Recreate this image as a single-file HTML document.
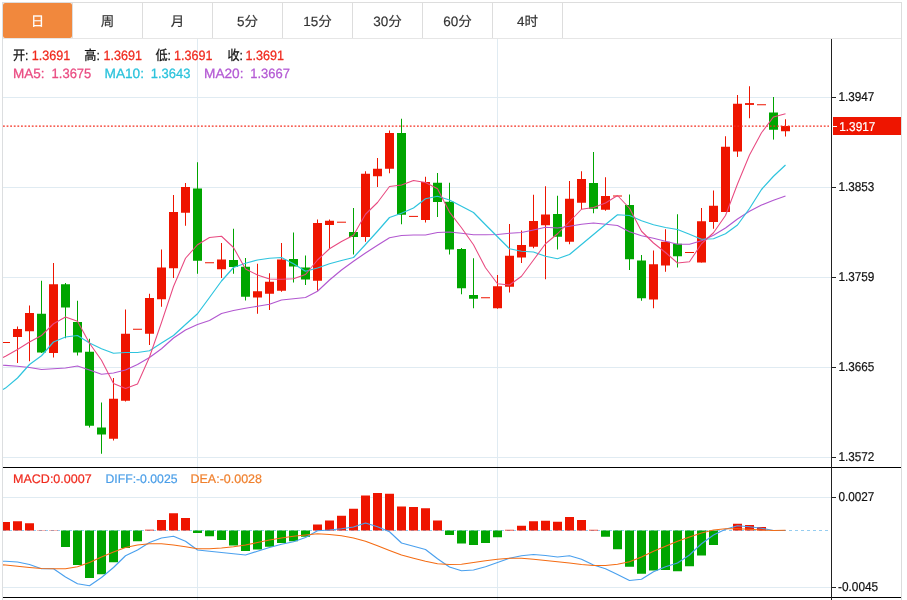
<!DOCTYPE html>
<html lang="zh-CN">
<head>
<meta charset="utf-8">
<title>K线图</title>
<style>
html,body{margin:0;padding:0;background:#fff;}
body{width:907px;height:600px;overflow:hidden;font-family:"Liberation Sans","Noto Sans CJK SC",sans-serif;}
svg{display:block;will-change:transform;}
text{text-rendering:geometricPrecision;}
</style>
</head>
<body>
<svg width="907" height="600" viewBox="0 0 907 600" shape-rendering="auto">
<rect width="907" height="600" fill="#fff"/>
<g shape-rendering="crispEdges">
<rect x="2" y="2" width="900" height="1" fill="#dddddd"/>
<rect x="2" y="2" width="1" height="598" fill="#dcdee0"/>
<rect x="901" y="2" width="1" height="598" fill="#dcdcdc"/>
<rect x="3" y="38" width="898" height="1" fill="#e6e6e6"/>
<rect x="3" y="3" width="69" height="35" rx="2" ry="2" fill="#f1883d" shape-rendering="auto"/>
<rect x="72" y="3" width="1" height="35" fill="#dddddd"/>
<rect x="142" y="3" width="1" height="35" fill="#dddddd"/>
<rect x="212" y="3" width="1" height="35" fill="#dddddd"/>
<rect x="282" y="3" width="1" height="35" fill="#dddddd"/>
<rect x="352" y="3" width="1" height="35" fill="#dddddd"/>
<rect x="422" y="3" width="1" height="35" fill="#dddddd"/>
<rect x="492" y="3" width="1" height="35" fill="#dddddd"/>
<rect x="562" y="3" width="1" height="35" fill="#dddddd"/>
<rect x="3" y="97" width="828" height="1" fill="#e0ebf2"/>
<rect x="3" y="187" width="828" height="1" fill="#e0ebf2"/>
<rect x="3" y="277" width="828" height="1" fill="#e0ebf2"/>
<rect x="3" y="367" width="828" height="1" fill="#e0ebf2"/>
<rect x="3" y="457" width="828" height="1" fill="#e0ebf2"/>
<rect x="3" y="497" width="828" height="1" fill="#e0ebf2"/>
<rect x="3" y="587" width="828" height="1" fill="#e0ebf2"/>
<rect x="197" y="39" width="1" height="561" fill="#e0ebf2"/>
<rect x="497" y="39" width="1" height="561" fill="#e0ebf2"/>
</g>
<g font-family="'Liberation Sans', 'Noto Sans CJK SC', sans-serif" font-size="13.5" text-anchor="middle" stroke-width="0.18" stroke-linejoin="round">
<text x="37.5" y="25.7" fill="#fff" stroke="#fff">日</text>
<text x="107.5" y="25.7" fill="#333" stroke="#333">周</text>
<text x="177.5" y="25.7" fill="#333" stroke="#333">月</text>
<text x="247.5" y="25.7" fill="#333" stroke="#333">5分</text>
<text x="317.5" y="25.7" fill="#333" stroke="#333">15分</text>
<text x="387.5" y="25.7" fill="#333" stroke="#333">30分</text>
<text x="457.5" y="25.7" fill="#333" stroke="#333">60分</text>
<text x="527.5" y="25.7" fill="#333" stroke="#333">4时</text>
</g>
<g>
<rect x="3" y="342" width="7" height="1" fill="#ee1500"/>
<rect x="17" y="326.5" width="1" height="36.5" fill="#ee1500"/>
<rect x="13" y="329" width="9" height="8" fill="#ee1500"/>
<rect x="29" y="305.5" width="1" height="55.75" fill="#ee1500"/>
<rect x="25" y="313" width="9" height="18.25" fill="#ee1500"/>
<rect x="41" y="280.75" width="1" height="72.25" fill="#00a500"/>
<rect x="37" y="313.75" width="9" height="38.75" fill="#00a500"/>
<rect x="53" y="263" width="1" height="94.5" fill="#ee1500"/>
<rect x="49" y="284.25" width="9" height="68.75" fill="#ee1500"/>
<rect x="65" y="283" width="1" height="55.25" fill="#00a500"/>
<rect x="61" y="284.25" width="9" height="23.25" fill="#00a500"/>
<rect x="77" y="300.75" width="1" height="54.75" fill="#00a500"/>
<rect x="73" y="322" width="9" height="30.5" fill="#00a500"/>
<rect x="89" y="338.75" width="1" height="88.75" fill="#00a500"/>
<rect x="85" y="351.75" width="9" height="74" fill="#00a500"/>
<rect x="101" y="402.5" width="1" height="51.25" fill="#00a500"/>
<rect x="97" y="427.5" width="9" height="7" fill="#00a500"/>
<rect x="113" y="378" width="1" height="62.5" fill="#ee1500"/>
<rect x="109" y="398.75" width="9" height="40" fill="#ee1500"/>
<rect x="125" y="309.5" width="1" height="92" fill="#ee1500"/>
<rect x="121" y="333.75" width="9" height="67" fill="#ee1500"/>
<rect x="133" y="328.75" width="9" height="1" fill="#ee1500"/>
<rect x="149" y="293.75" width="1" height="51.25" fill="#ee1500"/>
<rect x="145" y="298" width="9" height="35.75" fill="#ee1500"/>
<rect x="161" y="249.5" width="1" height="57.25" fill="#ee1500"/>
<rect x="157" y="267.5" width="9" height="31.75" fill="#ee1500"/>
<rect x="173" y="195" width="1" height="83" fill="#ee1500"/>
<rect x="169" y="212" width="9" height="56.25" fill="#ee1500"/>
<rect x="185" y="183" width="1" height="42.75" fill="#ee1500"/>
<rect x="181" y="187" width="9" height="25.75" fill="#ee1500"/>
<rect x="197" y="162.25" width="1" height="111.5" fill="#00a500"/>
<rect x="193" y="188.5" width="9" height="72.25" fill="#00a500"/>
<rect x="205" y="262.25" width="9" height="1" fill="#ee1500"/>
<rect x="221" y="243" width="1" height="35" fill="#ee1500"/>
<rect x="217" y="259.5" width="9" height="9.75" fill="#ee1500"/>
<rect x="233" y="228.75" width="1" height="45" fill="#00a500"/>
<rect x="229" y="260" width="9" height="7" fill="#00a500"/>
<rect x="245" y="258" width="1" height="42.5" fill="#00a500"/>
<rect x="241" y="266.75" width="9" height="30" fill="#00a500"/>
<rect x="257" y="263.75" width="1" height="50" fill="#ee1500"/>
<rect x="253" y="291.25" width="9" height="6.25" fill="#ee1500"/>
<rect x="269" y="273.25" width="1" height="36.75" fill="#ee1500"/>
<rect x="265" y="281.75" width="9" height="12" fill="#ee1500"/>
<rect x="281" y="243" width="1" height="48.75" fill="#ee1500"/>
<rect x="277" y="259.5" width="9" height="31.25" fill="#ee1500"/>
<rect x="293" y="232.5" width="1" height="50" fill="#00a500"/>
<rect x="289" y="259" width="9" height="7.5" fill="#00a500"/>
<rect x="305" y="255.5" width="1" height="29.5" fill="#00a500"/>
<rect x="301" y="267.5" width="9" height="12" fill="#00a500"/>
<rect x="317" y="219.5" width="1" height="71.25" fill="#ee1500"/>
<rect x="313" y="223" width="9" height="57.75" fill="#ee1500"/>
<rect x="329" y="219.5" width="1" height="29.25" fill="#ee1500"/>
<rect x="325" y="220.75" width="9" height="4.25" fill="#ee1500"/>
<rect x="337" y="221.7" width="9" height="1" fill="#ee1500"/>
<rect x="353" y="208" width="1" height="46.5" fill="#00a500"/>
<rect x="349" y="232" width="9" height="5" fill="#00a500"/>
<rect x="365" y="171.25" width="1" height="70.5" fill="#ee1500"/>
<rect x="361" y="173.75" width="9" height="63.25" fill="#ee1500"/>
<rect x="377" y="158" width="1" height="29" fill="#ee1500"/>
<rect x="373" y="168.75" width="9" height="7.5" fill="#ee1500"/>
<rect x="389" y="130.5" width="1" height="42.75" fill="#ee1500"/>
<rect x="385" y="133" width="9" height="35.75" fill="#ee1500"/>
<rect x="401" y="118.75" width="1" height="105.5" fill="#00a500"/>
<rect x="397" y="133" width="9" height="81.75" fill="#00a500"/>
<rect x="409" y="215.9" width="9" height="1" fill="#ee1500"/>
<rect x="425" y="176.75" width="1" height="45.75" fill="#ee1500"/>
<rect x="421" y="182" width="9" height="38" fill="#ee1500"/>
<rect x="437" y="173" width="1" height="44" fill="#00a500"/>
<rect x="433" y="182.75" width="9" height="19.25" fill="#00a500"/>
<rect x="449" y="182.75" width="1" height="71.75" fill="#00a500"/>
<rect x="445" y="201.75" width="9" height="47.75" fill="#00a500"/>
<rect x="461" y="248" width="1" height="46.25" fill="#00a500"/>
<rect x="457" y="249" width="9" height="39.25" fill="#00a500"/>
<rect x="473" y="258.25" width="1" height="50" fill="#00a500"/>
<rect x="469" y="295" width="9" height="3.75" fill="#00a500"/>
<rect x="481" y="297.25" width="9" height="1" fill="#ee1500"/>
<rect x="497" y="275" width="1" height="33.75" fill="#ee1500"/>
<rect x="493" y="286.25" width="9" height="22" fill="#ee1500"/>
<rect x="509" y="224" width="1" height="68.5" fill="#ee1500"/>
<rect x="505" y="255.75" width="9" height="31" fill="#ee1500"/>
<rect x="521" y="230.5" width="1" height="32.5" fill="#ee1500"/>
<rect x="517" y="245" width="9" height="12.5" fill="#ee1500"/>
<rect x="533" y="194.75" width="1" height="53.5" fill="#ee1500"/>
<rect x="529" y="221" width="9" height="25.75" fill="#ee1500"/>
<rect x="545" y="186.25" width="1" height="93" fill="#ee1500"/>
<rect x="541" y="214.5" width="9" height="10.75" fill="#ee1500"/>
<rect x="557" y="195.75" width="1" height="53.75" fill="#00a500"/>
<rect x="553" y="214" width="9" height="22.75" fill="#00a500"/>
<rect x="569" y="181" width="1" height="63.25" fill="#ee1500"/>
<rect x="565" y="198.75" width="9" height="43" fill="#ee1500"/>
<rect x="581" y="171.25" width="1" height="38" fill="#ee1500"/>
<rect x="577" y="179" width="9" height="23.75" fill="#ee1500"/>
<rect x="593" y="152" width="1" height="61.25" fill="#00a500"/>
<rect x="589" y="183" width="9" height="25.75" fill="#00a500"/>
<rect x="605" y="177.25" width="1" height="33.5" fill="#ee1500"/>
<rect x="601" y="196" width="9" height="13.75" fill="#ee1500"/>
<rect x="613" y="195.5" width="9" height="1" fill="#ee1500"/>
<rect x="629" y="194.5" width="1" height="75.5" fill="#00a500"/>
<rect x="625" y="205" width="9" height="54.25" fill="#00a500"/>
<rect x="641" y="255" width="1" height="45.75" fill="#00a500"/>
<rect x="637" y="260.5" width="9" height="37.75" fill="#00a500"/>
<rect x="653" y="250.5" width="1" height="57.75" fill="#ee1500"/>
<rect x="649" y="264.25" width="9" height="35.25" fill="#ee1500"/>
<rect x="665" y="229.25" width="1" height="42.5" fill="#ee1500"/>
<rect x="661" y="241.75" width="9" height="23.75" fill="#ee1500"/>
<rect x="677" y="214.25" width="1" height="53.25" fill="#00a500"/>
<rect x="673" y="243.75" width="9" height="12.5" fill="#00a500"/>
<rect x="685" y="252" width="9" height="1" fill="#ee1500"/>
<rect x="701" y="208" width="1" height="54.5" fill="#ee1500"/>
<rect x="697" y="221.25" width="9" height="41.25" fill="#ee1500"/>
<rect x="713" y="190.5" width="1" height="38.25" fill="#ee1500"/>
<rect x="709" y="205.75" width="9" height="16.25" fill="#ee1500"/>
<rect x="725" y="136.25" width="1" height="75.75" fill="#ee1500"/>
<rect x="721" y="146.75" width="9" height="65.25" fill="#ee1500"/>
<rect x="737" y="95" width="1" height="61.9" fill="#ee1500"/>
<rect x="733" y="103.75" width="9" height="47.75" fill="#ee1500"/>
<rect x="749" y="86.25" width="1" height="32" fill="#ee1500"/>
<rect x="745" y="103.1" width="9" height="1.8" fill="#ee1500"/>
<rect x="757" y="104.25" width="9" height="1" fill="#ee1500"/>
<rect x="773" y="97" width="1" height="42.6" fill="#00a500"/>
<rect x="769" y="112.5" width="9" height="17.25" fill="#00a500"/>
<rect x="785" y="119.25" width="1" height="17.25" fill="#ee1500"/>
<rect x="781" y="126" width="9" height="5.25" fill="#ee1500"/>
</g>
<line x1="3" y1="530.5" x2="829" y2="530.5" stroke="#96cdf0" stroke-width="1" stroke-dasharray="3 3" shape-rendering="crispEdges"/>
<g>
<rect x="3" y="522" width="7" height="8.5" fill="#ee1500"/>
<rect x="13" y="521.25" width="9" height="9.25" fill="#ee1500"/>
<rect x="25" y="523.25" width="9" height="7.25" fill="#ee1500"/>
<rect x="37" y="530.2" width="9" height="0.3" fill="#ee1500"/>
<rect x="49" y="530.2" width="9" height="0.3" fill="#ee1500"/>
<rect x="61" y="530.5" width="9" height="16.5" fill="#00a500"/>
<rect x="73" y="530.5" width="9" height="34.5" fill="#00a500"/>
<rect x="85" y="530.5" width="9" height="47.5" fill="#00a500"/>
<rect x="97" y="530.5" width="9" height="43.75" fill="#00a500"/>
<rect x="109" y="530.5" width="9" height="31.75" fill="#00a500"/>
<rect x="121" y="530.5" width="9" height="17.5" fill="#00a500"/>
<rect x="133" y="530.5" width="9" height="10.75" fill="#00a500"/>
<rect x="145" y="529.7" width="9" height="0.8" fill="#ee1500"/>
<rect x="157" y="520" width="9" height="10.5" fill="#ee1500"/>
<rect x="169" y="513.25" width="9" height="17.25" fill="#ee1500"/>
<rect x="181" y="518" width="9" height="12.5" fill="#ee1500"/>
<rect x="193" y="530.5" width="9" height="2.5" fill="#00a500"/>
<rect x="205" y="530.5" width="9" height="5.75" fill="#00a500"/>
<rect x="217" y="530.5" width="9" height="9.5" fill="#00a500"/>
<rect x="229" y="530.5" width="9" height="15" fill="#00a500"/>
<rect x="241" y="530.5" width="9" height="20.5" fill="#00a500"/>
<rect x="253" y="530.5" width="9" height="19" fill="#00a500"/>
<rect x="265" y="530.5" width="9" height="16.25" fill="#00a500"/>
<rect x="277" y="530.5" width="9" height="12.5" fill="#00a500"/>
<rect x="289" y="530.5" width="9" height="10.75" fill="#00a500"/>
<rect x="301" y="530.5" width="9" height="6.25" fill="#00a500"/>
<rect x="313" y="524.5" width="9" height="6" fill="#ee1500"/>
<rect x="325" y="520.5" width="9" height="10" fill="#ee1500"/>
<rect x="337" y="515.75" width="9" height="14.75" fill="#ee1500"/>
<rect x="349" y="508.75" width="9" height="21.75" fill="#ee1500"/>
<rect x="361" y="495.5" width="9" height="35" fill="#ee1500"/>
<rect x="373" y="493" width="9" height="37.5" fill="#ee1500"/>
<rect x="385" y="493.75" width="9" height="36.75" fill="#ee1500"/>
<rect x="397" y="506.5" width="9" height="24" fill="#ee1500"/>
<rect x="409" y="507" width="9" height="23.5" fill="#ee1500"/>
<rect x="421" y="508.25" width="9" height="22.25" fill="#ee1500"/>
<rect x="433" y="520.5" width="9" height="10" fill="#ee1500"/>
<rect x="445" y="530.5" width="9" height="4.5" fill="#00a500"/>
<rect x="457" y="530.5" width="9" height="13" fill="#00a500"/>
<rect x="469" y="530.5" width="9" height="14.5" fill="#00a500"/>
<rect x="481" y="530.5" width="9" height="12.5" fill="#00a500"/>
<rect x="493" y="530.5" width="9" height="6.75" fill="#00a500"/>
<rect x="505" y="529.8" width="9" height="0.7" fill="#ee1500"/>
<rect x="517" y="525.75" width="9" height="4.75" fill="#ee1500"/>
<rect x="529" y="521.25" width="9" height="9.25" fill="#ee1500"/>
<rect x="541" y="520.75" width="9" height="9.75" fill="#ee1500"/>
<rect x="553" y="521.75" width="9" height="8.75" fill="#ee1500"/>
<rect x="565" y="517" width="9" height="13.5" fill="#ee1500"/>
<rect x="577" y="520" width="9" height="10.5" fill="#ee1500"/>
<rect x="589" y="529.8" width="9" height="0.7" fill="#ee1500"/>
<rect x="601" y="530.5" width="9" height="6.25" fill="#00a500"/>
<rect x="613" y="530.5" width="9" height="18.75" fill="#00a500"/>
<rect x="625" y="530.5" width="9" height="36.25" fill="#00a500"/>
<rect x="637" y="530.5" width="9" height="43.25" fill="#00a500"/>
<rect x="649" y="530.5" width="9" height="40" fill="#00a500"/>
<rect x="661" y="530.5" width="9" height="39.5" fill="#00a500"/>
<rect x="673" y="530.5" width="9" height="40.75" fill="#00a500"/>
<rect x="685" y="530.5" width="9" height="35.75" fill="#00a500"/>
<rect x="697" y="530.5" width="9" height="25" fill="#00a500"/>
<rect x="709" y="530.5" width="9" height="14.5" fill="#00a500"/>
<rect x="733" y="523.75" width="9" height="6.75" fill="#ee1500"/>
<rect x="745" y="525" width="9" height="5.5" fill="#ee1500"/>
<rect x="757" y="527" width="9" height="3.5" fill="#ee1500"/>
</g>
<line x1="3" y1="126" x2="829" y2="126" stroke="#f32e1e" stroke-width="1.25" stroke-dasharray="1.8 1.8"/>
<polyline fill="none" stroke="#b258d0" stroke-width="1.15" stroke-linejoin="round" points="3,365.25 5.5,365.4 17.5,366.25 29.5,367.5 41.5,369.5 53.5,368.75 65.5,368 77.5,366 89.5,370 101.5,374.25 113.5,373 125.5,370 137.5,364.5 149.5,357.5 161.5,348.75 173.5,338 185.5,330 197.5,324.5 209.5,320.5 221.5,313.5 233.5,310.5 245.5,308.25 257.5,306.25 269.5,304.25 281.5,300 293.5,298.75 305.5,297.5 317.5,291.25 329.5,280 341.5,270 353.5,261.25 365.5,253 377.5,245.25 389.5,237.75 401.5,235.5 413.5,235 425.5,235 437.5,232.5 449.5,232 461.5,233.25 473.5,234.75 485.5,234.75 497.5,234.5 509.5,233.25 521.5,232.5 533.5,230 545.5,227.25 557.5,228 569.5,226.25 581.5,224.25 593.5,223 605.5,224.25 617.5,225.5 629.5,231.75 641.5,235.75 653.5,238.25 665.5,241.25 677.5,244.25 689.5,244.25 701.5,240.75 713.5,235.25 725.5,228 737.5,219 749.5,211.25 761.5,205 773.5,200.25 785.5,196"/>
<polyline fill="none" stroke="#2ec4de" stroke-width="1.2" stroke-linejoin="round" points="3,389.5 5.5,388.1 17.5,378 29.5,364.5 41.5,355.75 53.5,342 65.5,337 77.5,335.5 89.5,343 101.5,348.75 113.5,353.25 125.5,352.5 137.5,352.5 149.5,350.75 161.5,343 173.5,335.5 185.5,324.5 197.5,313.75 209.5,297.5 221.5,281 233.5,267.5 245.5,263.25 257.5,260 269.5,258.25 281.5,257.5 293.5,263.75 305.5,271.25 317.5,268 329.5,263.75 341.5,260.5 353.5,257.5 365.5,244.5 377.5,231.25 389.5,217.5 401.5,213.25 413.5,208 425.5,198.75 437.5,196.25 449.5,200 461.5,206.25 473.5,212.5 485.5,224.75 497.5,236.75 509.5,248.75 521.5,251.25 533.5,252 545.5,256.25 557.5,258.75 569.5,254.5 581.5,244.5 593.5,234.5 605.5,224.5 617.5,214.75 629.5,215.5 641.5,220.75 653.5,224.75 665.5,227.5 677.5,229.5 689.5,234.25 701.5,239.25 713.5,238.75 725.5,233.75 737.5,225 749.5,208.5 761.5,189.5 773.5,176.25 785.5,165"/>
<polyline fill="none" stroke="#e84a80" stroke-width="1.05" stroke-linejoin="round" points="3,357.5 5.5,356.25 17.5,349.5 29.5,342 41.5,335.5 53.5,323.75 65.5,317 77.5,321.25 89.5,343.25 101.5,360.25 113.5,383.5 125.5,388.5 137.5,384 149.5,357 161.5,322.5 173.5,286.5 185.5,258.25 197.5,244.75 209.5,237.5 221.5,236.25 233.5,247.5 245.5,269 257.5,275 269.5,279 281.5,279.25 293.5,278.75 305.5,274.5 317.5,260 329.5,248.75 341.5,241.5 353.5,235.25 365.5,214.25 377.5,202.5 389.5,186.5 401.5,185 413.5,180.5 425.5,182.5 437.5,188.75 449.5,212.1 461.5,227.7 473.5,244.8 485.5,267.75 497.5,283.75 509.5,285 521.5,276.25 533.5,260 545.5,243.75 557.5,233.75 569.5,221.75 581.5,209.25 593.5,207.5 605.5,203 617.5,195.5 629.5,208.25 641.5,231.25 653.5,243 665.5,252.5 677.5,263 689.5,261.75 701.5,243.75 713.5,232.75 725.5,215.5 737.5,184 749.5,155 761.5,132.75 773.5,116.9 785.5,113.75"/>
<polyline fill="none" stroke="#4aa0ee" stroke-width="1.15" stroke-linejoin="round" points="3,561.2 5.5,561.25 17.5,562 29.5,564.5 41.5,568.75 53.5,568.75 65.5,577 77.5,583.75 89.5,585.75 101.5,577.5 113.5,567.5 125.5,555.75 137.5,550 149.5,542.5 161.5,538 173.5,536.25 185.5,541.25 197.5,550 209.5,551.25 221.5,552.5 233.5,553.75 245.5,555 257.5,551.25 269.5,547.5 281.5,544.25 293.5,541.75 305.5,537.5 317.5,530.75 329.5,530 341.5,528.75 353.5,527 365.5,523 377.5,526.75 389.5,531.75 401.5,543 413.5,546.25 425.5,549.5 437.5,558.75 449.5,567 461.5,570.75 473.5,570 485.5,566.75 497.5,562.5 509.5,558.25 521.5,555.75 533.5,554.5 545.5,555.5 557.5,557 569.5,555.75 581.5,559.25 593.5,565 605.5,568.75 617.5,574.5 629.5,580.5 641.5,579.25 653.5,571.75 665.5,566.75 677.5,563 689.5,555 701.5,543.75 713.5,535 725.5,529.25 737.5,525.75 749.5,526.75 761.5,528.25 773.5,530.5 785.5,530.5"/>
<polyline fill="none" stroke="#f46c14" stroke-width="1.15" stroke-linejoin="round" points="3,564.9 5.5,565 17.5,566.25 29.5,567.5 41.5,568.5 53.5,568.75 65.5,568.75 77.5,566.75 89.5,562.5 101.5,557 113.5,552 125.5,547.5 137.5,545 149.5,543.75 161.5,543.75 173.5,545 185.5,546.75 197.5,548.75 209.5,548.75 221.5,548 233.5,546.75 245.5,545 257.5,542.5 269.5,540 281.5,538 293.5,536.25 305.5,535 317.5,533.75 329.5,534.5 341.5,535.75 353.5,538 365.5,541.25 377.5,545.75 389.5,550.5 401.5,555 413.5,558.25 425.5,561.25 437.5,563.75 449.5,564.5 461.5,564.25 473.5,562.5 485.5,560.75 497.5,559.25 509.5,558.25 521.5,558.25 533.5,559.25 545.5,560.5 557.5,561.75 569.5,563 581.5,564.5 593.5,565.5 605.5,565.5 617.5,564.25 629.5,561.75 641.5,557 653.5,551.25 665.5,546.25 677.5,541.25 689.5,537 701.5,533 713.5,530 725.5,528.75 737.5,528.75 749.5,529.25 761.5,530 773.5,530.5 785.5,530.25"/>
<g shape-rendering="crispEdges">
<rect x="3" y="467" width="898" height="1" fill="#000"/>
<rect x="3" y="597" width="898" height="1" fill="#000"/>
<rect x="831" y="39" width="1" height="561" fill="#222"/>
<rect x="832" y="97" width="4" height="1" fill="#222"/>
<rect x="832" y="187" width="4" height="1" fill="#222"/>
<rect x="832" y="277" width="4" height="1" fill="#222"/>
<rect x="832" y="367" width="4" height="1" fill="#222"/>
<rect x="832" y="457" width="4" height="1" fill="#222"/>
<rect x="832" y="497" width="4" height="1" fill="#222"/>
<rect x="832" y="587" width="4" height="1" fill="#222"/>
<rect x="833" y="117" width="68" height="18" fill="#ee1500"/>
<rect x="833" y="126" width="4" height="1" fill="#fff"/>
</g>
<g font-family="'Liberation Sans', sans-serif" font-size="12.9" stroke-width="0.2" stroke-linejoin="round">
<text x="838.4" y="101.4" fill="#111" stroke="#111" textLength="36" lengthAdjust="spacingAndGlyphs">1.3947</text>
<text x="838.4" y="191.4" fill="#111" stroke="#111" textLength="36" lengthAdjust="spacingAndGlyphs">1.3853</text>
<text x="838.4" y="281.4" fill="#111" stroke="#111" textLength="36" lengthAdjust="spacingAndGlyphs">1.3759</text>
<text x="838.4" y="371.4" fill="#111" stroke="#111" textLength="36" lengthAdjust="spacingAndGlyphs">1.3665</text>
<text x="838.4" y="461.4" fill="#111" stroke="#111" textLength="36" lengthAdjust="spacingAndGlyphs">1.3572</text>
<text x="838.4" y="501.4" fill="#111" stroke="#111" textLength="36" lengthAdjust="spacingAndGlyphs">0.0027</text>
<text x="838" y="591.4" fill="#111" stroke="#111" textLength="40.2" lengthAdjust="spacingAndGlyphs">-0.0045</text>
<text x="839.2" y="130.5" textLength="36.2" lengthAdjust="spacingAndGlyphs" fill="#fff" stroke="#fff">1.3917</text>
</g>
<g font-family="'Liberation Sans', 'Noto Sans CJK SC', sans-serif" font-size="13.5" stroke-width="0.28" stroke-linejoin="round">
<text x="13" y="60" fill="#111" stroke="#111" textLength="15.5" lengthAdjust="spacingAndGlyphs">开:</text>
<text x="31.75" y="60" fill="#f02a1e" stroke="#f02a1e" textLength="38.5" lengthAdjust="spacingAndGlyphs">1.3691</text>
<text x="84.3" y="60" fill="#111" stroke="#111" textLength="15.5" lengthAdjust="spacingAndGlyphs">高:</text>
<text x="103.4" y="60" fill="#f02a1e" stroke="#f02a1e" textLength="38.5" lengthAdjust="spacingAndGlyphs">1.3691</text>
<text x="155.5" y="60" fill="#111" stroke="#111" textLength="15.5" lengthAdjust="spacingAndGlyphs">低:</text>
<text x="174" y="60" fill="#f02a1e" stroke="#f02a1e" textLength="38.5" lengthAdjust="spacingAndGlyphs">1.3691</text>
<text x="227.5" y="60" fill="#111" stroke="#111" textLength="15.5" lengthAdjust="spacingAndGlyphs">收:</text>
<text x="245.5" y="60" fill="#f02a1e" stroke="#f02a1e" textLength="38.5" lengthAdjust="spacingAndGlyphs">1.3691</text>
<text x="13" y="78" fill="#ea4c82" stroke="#ea4c82" textLength="31.6" lengthAdjust="spacingAndGlyphs">MA5:</text>
<text x="51.6" y="78" fill="#ea4c82" stroke="#ea4c82" textLength="39.7" lengthAdjust="spacingAndGlyphs">1.3675</text>
<text x="104.5" y="78" fill="#2cc3dc" stroke="#2cc3dc" textLength="39.5" lengthAdjust="spacingAndGlyphs">MA10:</text>
<text x="150.75" y="78" fill="#2cc3dc" stroke="#2cc3dc" textLength="39.7" lengthAdjust="spacingAndGlyphs">1.3643</text>
<text x="204" y="78" fill="#b45ad4" stroke="#b45ad4" textLength="39.5" lengthAdjust="spacingAndGlyphs">MA20:</text>
<text x="250.2" y="78" fill="#b45ad4" stroke="#b45ad4" textLength="39.7" lengthAdjust="spacingAndGlyphs">1.3667</text>
</g>
<g font-family="'Liberation Sans', 'Noto Sans CJK SC', sans-serif" font-size="12.5" stroke-width="0.2" stroke-linejoin="round">
<text x="13" y="483.3" fill="#f02a1e" stroke="#f02a1e" textLength="78.7" lengthAdjust="spacingAndGlyphs">MACD:0.0007</text>
<text x="105.5" y="483.3" fill="#4a9ee8" stroke="#4a9ee8" textLength="72" lengthAdjust="spacingAndGlyphs">DIFF:-0.0025</text>
<text x="190.5" y="483.3" fill="#f0802e" stroke="#f0802e" textLength="71.5" lengthAdjust="spacingAndGlyphs">DEA:-0.0028</text>
</g>
</svg>
</body>
</html>
